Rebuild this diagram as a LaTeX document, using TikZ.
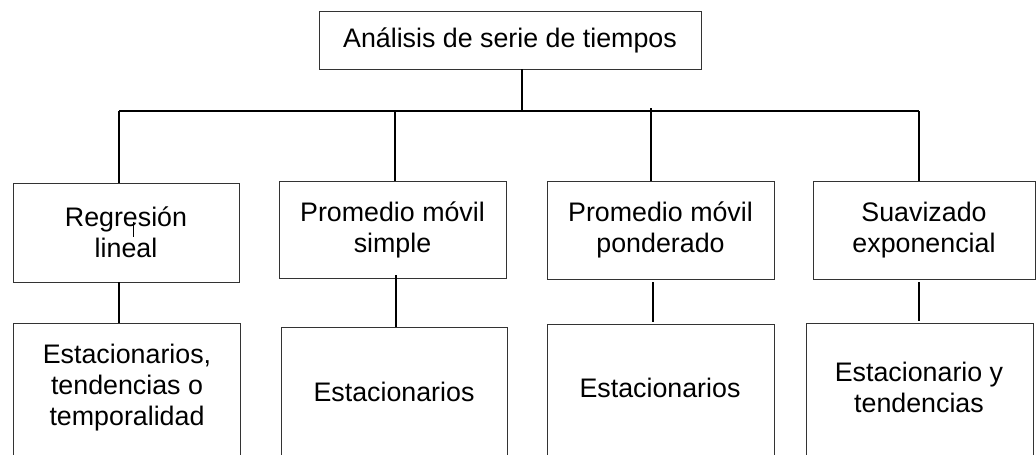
\documentclass[tikz,border=0pt]{standalone}
\usepackage{fontspec}
\setmainfont{Liberation Sans}
\begin{document}
\begin{tikzpicture}[x=1pt,y=-1pt,
  box/.style={draw=black!80, line width=0.8pt, inner sep=0pt, align=center, font=\fontsize{26.8}{31}\selectfont},
  txt/.style={inner sep=0pt, align=center, font=\fontsize{26.8}{31}\selectfont},
  conn/.style={line width=1.2pt, black}]
\useasboundingbox (0,0) rectangle (1036,455);
\clip (0,0) rectangle (1036,455);
% top
\node[box, minimum width=382pt, minimum height=58pt] (t) at (510,40) {Análisis de serie de tiempos};
% middle row
\node[box, minimum width=226pt, minimum height=99pt] (r1) at (126,232.5) {Regresión\\lineal};
\node[box, minimum width=227pt, minimum height=97pt] (r2) at (392.5,229.5) {Promedio móvil\\simple};
\node[box, minimum width=227pt, minimum height=98pt] (r3) at (660.5,230) {Promedio móvil\\ponderado};
\node[box, minimum width=222pt, minimum height=98pt] (r4) at (924,230) {Suavizado\\exponencial};
% bottom row (cut off by the page edge)
\node[box, minimum width=227pt, minimum height=157pt] (e1) at (126.5,401.5) {};
\node[txt] (e1t) at (127,388) {Estacionarios,\\tendencias o\\temporalidad};
\node[box, minimum width=226pt, minimum height=153pt] (e2) at (394,403.5) {};
\node[txt] (e2t) at (394,392) {Estacionarios};
\node[box, minimum width=227pt, minimum height=156pt] (e3) at (660.5,402) {};
\node[txt] (e3t) at (660,388) {Estacionarios};
\node[box, minimum width=227pt, minimum height=157pt] (e4) at (919.5,401.5) {};
\node[txt] (e4t) at (919,387.5) {Estacionario y\\tendencias};
% connectors
\coordinate (j) at (522,111);
\coordinate (b1) at (119,111);
\coordinate (b2) at (395,111);
\coordinate (b3) at (651,111);
\coordinate (b4) at (919,111);
\coordinate (c1) at (119,300);
\coordinate (c2) at (396,300);
\coordinate (c3) at (653,300);
\coordinate (c4) at (919,300);
\draw[conn] (t.south -| j) -- (j);
\draw[conn] (b1) -- (b4);
\draw[conn] (b1) -- (b1 |- r1.north);
\draw[conn] (b2) -- (b2 |- r2.north);
\draw[conn] ([yshift=3pt]b3) -- (b3 |- r3.north);
\draw[conn] (b4) -- (b4 |- r4.north);
\draw[conn] (r1.south -| c1) -- (e1.north -| c1);
\draw[conn] ([yshift=3pt]r2.south -| c2) -- (e2.north -| c2);
\draw[conn] ([yshift=-3pt]r3.south -| c3) -- ([yshift=2pt]e3.north -| c3);
\draw[conn] ([yshift=-3pt]r4.south -| c4) -- ([yshift=2pt]e4.north -| c4);
% small stray mark inside the first box
\coordinate (s1) at (133,222);
\coordinate (s2) at (133,237);
\draw[line width=0.8pt] (s1) -- (s2);
\end{tikzpicture}
\end{document}
